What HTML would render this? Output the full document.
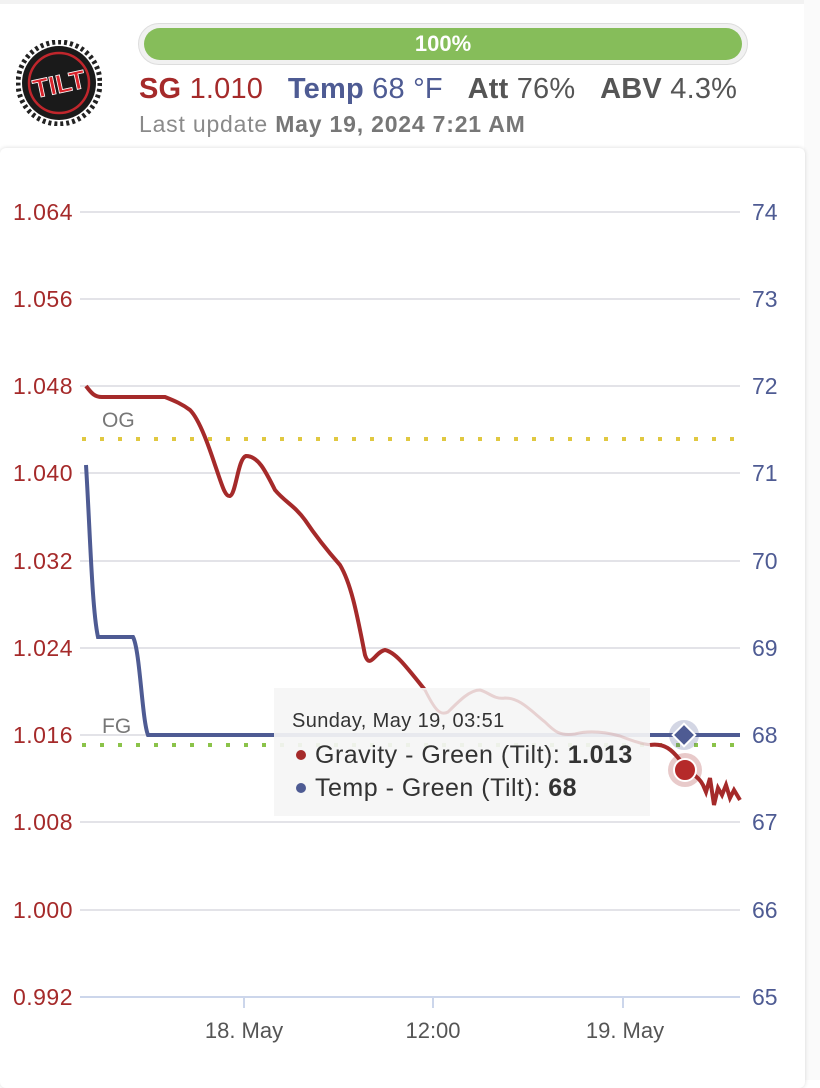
<!DOCTYPE html>
<html><head><meta charset="utf-8"><style>
body{margin:0;width:820px;height:1080px;background:#fff;font-family:"Liberation Sans",sans-serif;overflow:hidden;position:relative}
.t{position:absolute;white-space:nowrap}
</style></head><body>
<div style="position:absolute;left:0;top:0;width:820px;height:4px;background:#f2f2f2"></div>
<div style="position:absolute;left:804px;top:0;width:16px;height:1080px;background:#fafafa"></div>
<svg class="t" style="left:16px;top:40px" width="86" height="86" viewBox="0 0 86 86">
<circle cx="43" cy="43" r="41" fill="none" stroke="#222" stroke-width="5" stroke-dasharray="3 3"/>
<circle cx="43" cy="43" r="37" fill="#1a1a1a"/>
<circle cx="43" cy="43" r="30" fill="none" stroke="#c0262c" stroke-width="2.5"/>
<text x="43" y="53" text-anchor="middle" font-family="Liberation Sans" font-weight="bold" font-size="26" fill="#d8232a" stroke="#fff" stroke-width="0.8" transform="rotate(-12 43 43)">TILT</text>
</svg>
<div style="position:absolute;left:138px;top:23px;width:610px;height:42px;border-radius:21px;background:#f1f1f1;border:1px solid #ddd;box-sizing:border-box"></div>
<div style="position:absolute;left:144px;top:28px;width:598px;height:32px;border-radius:16px;background:#86bd5a"></div>
<div class="t" style="left:144px;top:31px;width:598px;text-align:center;color:#fff;font-weight:bold;font-size:22px">100%</div>
<div class="t" style="left:139px;top:73px;font-size:29px;letter-spacing:0.2px"><b style="color:#a52a2a">SG</b><span style="color:#a52a2a"> 1.010</span>&nbsp;&nbsp; <b style="color:#4e5b93">Temp</b><span style="color:#4e5b93"> 68 °F</span>&nbsp;&nbsp; <b style="color:#555">Att</b><span style="color:#555"> 76%</span>&nbsp;&nbsp; <b style="color:#555">ABV</b><span style="color:#555"> 4.3%</span></div>
<div class="t" style="left:139px;top:111px;font-size:23px;letter-spacing:0.8px;color:#8a8a8a">Last update <b style="color:#777">May 19, 2024 7:21 AM</b></div>
<div style="position:absolute;left:0;top:148px;width:805px;height:940px;border-radius:6px;box-shadow:0 0 4px rgba(0,0,0,0.15);background:#fff"></div>
<svg class="t" style="left:0;top:0" width="820" height="1080" font-family="Liberation Sans">
<g stroke="#e3e3e8" stroke-width="2">
<line x1="80" x2="740" y1="212" y2="212"/><line x1="80" x2="740" y1="299" y2="299"/><line x1="80" x2="740" y1="386" y2="386"/><line x1="80" x2="740" y1="473" y2="473"/><line x1="80" x2="740" y1="561" y2="561"/><line x1="80" x2="740" y1="648" y2="648"/><line x1="80" x2="740" y1="735" y2="735"/><line x1="80" x2="740" y1="822" y2="822"/><line x1="80" x2="740" y1="910" y2="910"/></g>
<line x1="80" x2="740" y1="997" y2="997" stroke="#ccd6eb" stroke-width="2"/>
<g stroke="#ccd6eb" stroke-width="2"><line x1="244" x2="244" y1="997" y2="1008"/><line x1="433" x2="433" y1="997" y2="1008"/><line x1="623" x2="623" y1="997" y2="1008"/></g>
<g fill="#a52a2a" font-size="23" text-anchor="end" letter-spacing="0.5">
<text x="73" y="220">1.064</text><text x="73" y="307">1.056</text><text x="73" y="394">1.048</text><text x="73" y="481">1.040</text><text x="73" y="569">1.032</text><text x="73" y="656">1.024</text><text x="73" y="743">1.016</text><text x="73" y="830">1.008</text><text x="73" y="918">1.000</text><text x="73" y="1005">0.992</text></g>
<g fill="#4e5b93" font-size="23">
<text x="752" y="220">74</text><text x="752" y="307">73</text><text x="752" y="394">72</text><text x="752" y="481">71</text><text x="752" y="569">70</text><text x="752" y="656">69</text><text x="752" y="743">68</text><text x="752" y="830">67</text><text x="752" y="918">66</text><text x="752" y="1005">65</text></g>
<g fill="#555" font-size="22" text-anchor="middle"><text x="244" y="1038">18. May</text><text x="433" y="1038">12:00</text><text x="625" y="1038">19. May</text></g>
<line x1="82" x2="740" y1="439" y2="439" stroke="#e0c840" stroke-width="4" stroke-dasharray="4 14"/>
<line x1="82" x2="740" y1="745" y2="745" stroke="#8bc34a" stroke-width="4" stroke-dasharray="4 14"/>
<text x="102" y="427" fill="#777" font-size="21">OG</text>
<text x="102" y="733" fill="#777" font-size="21">FG</text>
<path d="M86,465 C90,530 92,610 98,637 L133,637 C140,650 142,720 148,735 L740,735" fill="none" stroke="#4e5b93" stroke-width="4"/>
<path d="M86,386 C92,394 95,397 102,397 L165,397 C175,401 182,404 190,410 C200,420 210,450 215,465 C222,485 225,497 230,496 C236,494 238,458 246,456 C258,456 265,470 275,490 C285,502 295,506 305,520 C315,535 325,548 340,565 C352,585 358,620 365,655 C370,670 375,652 385,650 C395,652 405,665 425,690" fill="none" stroke="#a52a2a" stroke-width="4"/>
<rect x="274" y="688" width="376" height="128" fill="#f5f5f5" fill-opacity="0.92"/>
<path d="M425,690 C435,710 440,716 448,712 C460,700 470,690 480,690 C488,692 495,700 505,698 C520,698 530,710 545,722 C555,732 560,736 575,734 C590,730 605,732 620,736 C635,742 645,745 655,745" fill="none" stroke="#a52a2a" stroke-opacity="0.18" stroke-width="3"/>
<path d="M650,745 C665,743 672,750 680,760 C690,775 698,775 703,785 L706,792 L710,778 L714,805 L718,788 L722,795 L726,785 L730,798 L734,790 L740,800" fill="none" stroke="#a52a2a" stroke-width="4"/>
<circle cx="684" cy="735" r="15" fill="#4e5b93" fill-opacity="0.25"/>
<rect x="676" y="727" width="16" height="16" fill="#4e5b93" stroke="#fff" stroke-width="2" transform="rotate(45 684 735)"/>
<circle cx="685" cy="770" r="17" fill="#a52a2a" fill-opacity="0.25"/>
<circle cx="685" cy="770" r="11" fill="#b52a2a" stroke="#fff" stroke-width="2"/>
<text x="292" y="727" fill="#333" font-size="20" letter-spacing="0.4">Sunday, May 19, 03:51</text>
<circle cx="301" cy="755" r="5" fill="#a52a2a"/>
<text x="315" y="763" fill="#333" font-size="25" letter-spacing="0.5">Gravity - Green (Tilt): <tspan font-weight="bold">1.013</tspan></text>
<circle cx="301" cy="788" r="5" fill="#4e5b93"/>
<text x="315" y="796" fill="#333" font-size="25" letter-spacing="0.5">Temp - Green (Tilt): <tspan font-weight="bold">68</tspan></text>
</svg>
</body></html>
